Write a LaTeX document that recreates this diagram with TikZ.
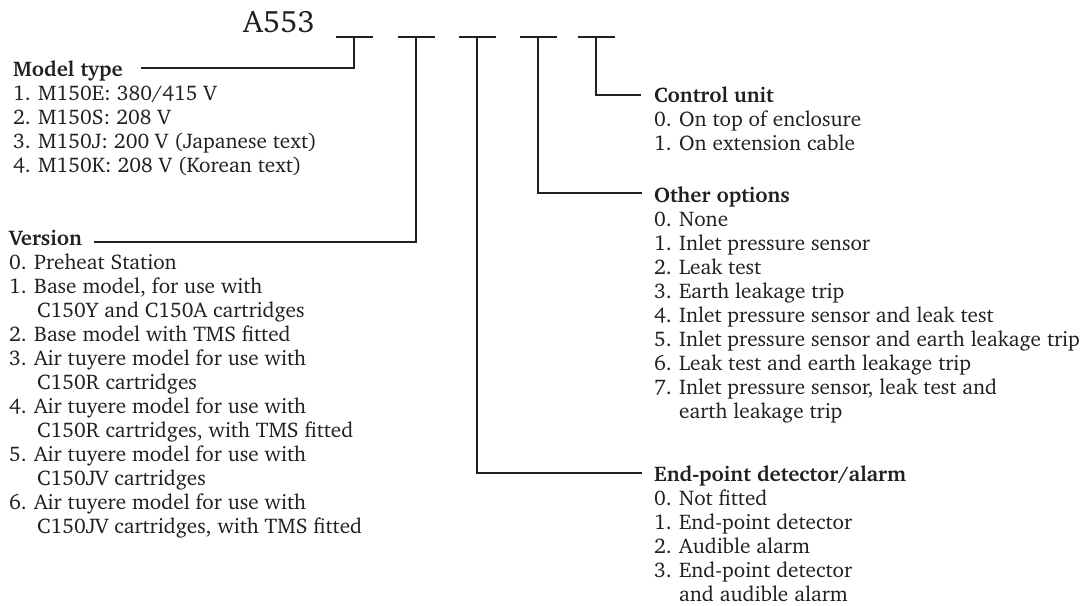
\documentclass[tikz,border=0pt]{standalone}
\usepackage[T1]{fontenc}
\usepackage{charter}
\definecolor{ink}{RGB}{35,31,32}
\begin{document}
\begin{tikzpicture}[x=1pt,y=-1pt]
\tikzset{
  conn/.style={draw=ink, line width=1.8pt, line cap=butt, line join=miter},
  blk/.style={anchor=base west, inner sep=0pt, text=ink, font=\fontsize{21.2}{24}\selectfont},
  ttl/.style={anchor=base, inner sep=0pt, text=ink, font=\fontsize{31}{31}\selectfont}
}
\useasboundingbox (0,0) rectangle (1086,605);
\node[ttl] (title) at (279,32) {A553};
% dash positions
\coordinate (d1) at (354,37);
\coordinate (d2) at (416,37);
\coordinate (d3) at (477,37);
\coordinate (d4) at (538,37);
\coordinate (d5) at (596,37);
\foreach \i in {1,...,5} \draw[conn] ([xshift=-18.5pt]d\i) -- ([xshift=18.5pt]d\i);
% connector ends
\coordinate (mtEnd) at (141,68);
\coordinate (vEnd) at (94,242);
\coordinate (eEnd) at (642,473);
\coordinate (oEnd) at (642,193);
\coordinate (cEnd) at (641,95);
\draw[conn] (d1) |- (mtEnd);
\draw[conn] (d2) |- (vEnd);
\draw[conn] (d3) |- (eEnd);
\draw[conn] (d4) |- (oEnd);
\draw[conn] (d5) |- (cEnd);
% text blocks
\node[blk] (model) at (13,76) {\begin{tabular}[t]{@{}l@{}}
\textbf{Model type}\\
1. M150E: 380/415 V\\
2. M150S: 208 V\\
3. M150J: 200 V (Japanese text)\\
4. M150K: 208 V (Korean text)
\end{tabular}};
\node[blk] (version) at (9,245) {\begin{tabular}[t]{@{}l@{}}
\textbf{Version}\\
0. Preheat Station\\
1. Base model, for use with\\
\phantom{1. }\hspace{3pt}C150Y and C150A cartridges\\
2. Base model with TMS fitted\\
3. Air tuyere model for use with\\
\phantom{3. }\hspace{3pt}C150R cartridges\\
4. Air tuyere model for use with\\
\phantom{4. }\hspace{3pt}C150R cartridges, with TMS fitted\\
5. Air tuyere model for use with\\
\phantom{5. }\hspace{3pt}C150JV cartridges\\
6. Air tuyere model for use with\\
\phantom{6. }\hspace{3pt}C150JV cartridges, with TMS fitted
\end{tabular}};
\node[blk] (control) at (654,102) {\begin{tabular}[t]{@{}l@{}}
\textbf{Control unit}\\
0. On top of enclosure\\
1. On extension cable
\end{tabular}};
\node[blk] (other) at (654,202) {\begin{tabular}[t]{@{}l@{}}
\textbf{Other options}\\
0. None\\
1. Inlet pressure sensor\\
2. Leak test\\
3. Earth leakage trip\\
4. Inlet pressure sensor and leak test\\
5. Inlet pressure sensor and earth leakage trip\\
6. Leak test and earth leakage trip\\
7. Inlet pressure sensor, leak test and\\
\phantom{7. }earth leakage trip
\end{tabular}};
\node[blk] (endpoint) at (654,481) {\begin{tabular}[t]{@{}l@{}}
\textbf{End-point detector/alarm}\\
0. Not fitted\\
1. End-point detector\\
2. Audible alarm\\
3. End-point detector\\
\phantom{3. }and audible alarm
\end{tabular}};
\end{tikzpicture}
\end{document}
